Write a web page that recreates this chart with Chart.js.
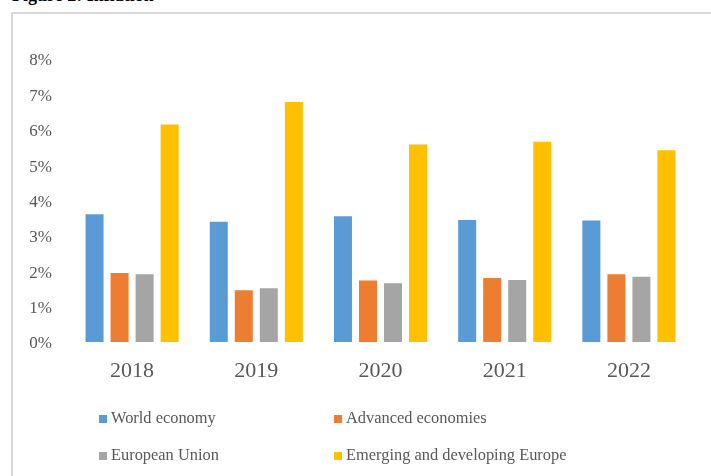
<!DOCTYPE html>
<html lang="en">
<head>
  <meta charset="UTF-8" />
  <title>Figure 2: Inflation</title>
  <script src="https://cdn.jsdelivr.net/npm/chart.js"></script>
  <style>
    html, body { margin: 0; padding: 0; background: #fff; overflow: hidden; }
    #page { position: relative; width: 711px; height: 476px; overflow: hidden; }
    #title { position: absolute; left: 12px; top: -14px; margin: 0; font: bold 18px/18px "Liberation Serif", "Times New Roman", serif; color: #000; white-space: nowrap; }
    #frame { position: absolute; left: 11px; top: 12px; width: 800px; height: 600px; border: 2px solid #d9d9d9; }
    #wrap { position: absolute; left: 0; top: 0; width: 711px; height: 476px; }
  </style>
</head>
<body>
  <div id="page">
    <h3 id="title">Figure 2: Inflation</h3>
    <div id="frame"></div>
    <div id="wrap"><canvas id="chart"></canvas></div>
  </div>
  <script>
    // data (percent)
    const years = ["2018", "2019", "2020", "2021", "2022"];
    const worldEconomy = [3.64, 3.43, 3.58, 3.48, 3.46];
    const advancedEconomies = [1.98, 1.49, 1.77, 1.84, 1.94];
    const europeanUnion = [1.94, 1.55, 1.69, 1.78, 1.87];
    const emergingEurope = [6.18, 6.81, 5.61, 5.69, 5.45];
    const seriesNames = ["World economy", "Advanced economies", "European Union", "Emerging and developing Europe"];
    const seriesColors = ["#5B9BD5", "#ED7D31", "#A5A5A5", "#FFC000"];
    const yTicks = [0, 1, 2, 3, 4, 5, 6, 7, 8];

    const textColor = "#595959";
    const serif = "'Liberation Serif', 'Times New Roman', serif";

    // two-column legend like the Excel original
    const gridLegend = {
      id: "gridLegend",
      afterDraw(chart) {
        const ctx = chart.ctx;
        const cols = [99, 334];
        const rows = [419, 456];
        ctx.save();
        ctx.font = "16.4px " + serif;
        ctx.textBaseline = "middle";
        chart.data.datasets.forEach((ds, i) => {
          const x = cols[i % 2];
          const y = rows[Math.floor(i / 2)];
          ctx.fillStyle = ds.backgroundColor;
          ctx.fillRect(x, y - 4, 8, 8);
          ctx.fillStyle = textColor;
          ctx.fillText(ds.label, x + 12, y);
        });
        ctx.restore();
      }
    };

    const allSeries = [worldEconomy, advancedEconomies, europeanUnion, emergingEurope];

    new Chart(document.getElementById("chart"), {
      type: "bar",
      data: {
        labels: years,
        datasets: allSeries.map((values, i) => ({
          label: seriesNames[i],
          data: values,
          backgroundColor: seriesColors[i],
          borderColor: "rgba(255,255,255,0.6)",
          borderWidth: 1,
          barPercentage: 0.8,
          categoryPercentage: 0.806
        }))
      },
      options: {
        responsive: true,
        maintainAspectRatio: false,
        animation: false,
        layout: { padding: { left: 25, right: 20, top: 59, bottom: 94 } },
        plugins: {
          legend: { display: false },
          tooltip: { enabled: false }
        },
        scales: {
          x: {
            grid: { display: false, drawTicks: false },
            border: { display: false },
            ticks: { color: textColor, font: { family: serif, size: 22 }, padding: 16 },
            afterFit: s => { s.height = 40; }
          },
          y: {
            min: yTicks[0],
            max: yTicks[yTicks.length - 1],
            grid: { display: false, drawTicks: false },
            border: { display: false },
            afterBuildTicks: s => { s.ticks = yTicks.map(v => ({ value: v })); },
            ticks: {
              color: textColor,
              font: { family: serif, size: 17 },
              padding: 18,
              labelOffset: 2,
              callback: v => v + "%"
            },
            afterFit: s => { s.width = 45; }
          }
        }
      },
      plugins: [gridLegend]
    });
  </script>
</body>
</html>
